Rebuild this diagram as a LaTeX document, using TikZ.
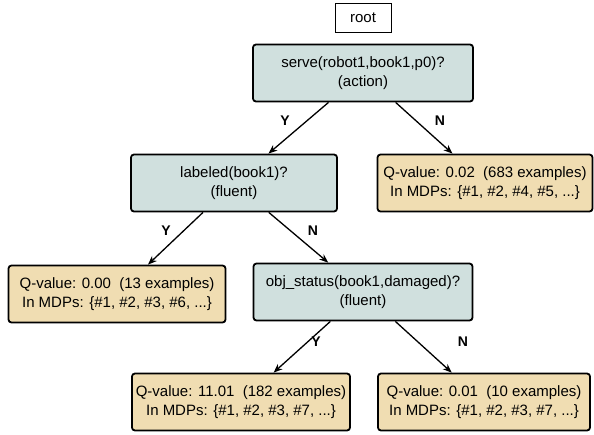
\documentclass[tikz,border=0pt]{standalone}
\usepackage{fontspec}
\setmainfont{Liberation Sans}
\usetikzlibrary{arrows.meta}

\definecolor{testfill}{RGB}{208,224,222}
\definecolor{leaffill}{RGB}{240,221,178}

\tikzset{
  testbox/.style={draw, line width=1.8pt, rounded corners=3pt, fill=testfill,
    minimum height=57pt, align=center, font=\fontsize{15}{19}\selectfont},
  leafbox/.style={draw, line width=1.8pt, rounded corners=3pt, fill=leaffill,
    minimum height=57pt, align=center, font=\fontsize{15}{19}\selectfont},
  branch/.style={line width=1.3pt, -{Stealth[length=9pt, width=7pt]}},
  answer/.style={font=\fontsize{14}{16}\selectfont\bfseries}
}

\begin{document}
\begin{tikzpicture}[x=1pt, y=-1pt]
      \useasboundingbox (0,0) rectangle (594,434);

      \node[draw, line width=0.6pt, minimum width=56pt, minimum height=29pt,
        font=\fontsize{15}{19}\selectfont] (root) at (363,18) {root};

      \node[testbox, minimum width=220pt] (serve) at (363,73) {serve(robot1,book1,p0)?\\(action)};
      \node[testbox, minimum width=206pt] (labeled) at (234,183) {labeled(book1)?\\(fluent)};
      \node[leafbox, minimum width=215pt] (leafA) at (485,183) {Q-value: 0.02~~(683 examples)\\In MDPs: \{\#1, \#2, \#4, \#5, ...\}};
      \node[leafbox, minimum width=217pt] (leafB) at (117,294) {Q-value: 0.00~~(13 examples)\\In MDPs: \{\#1, \#2, \#3, \#6, ...\}};
      \node[testbox, minimum width=219pt] (status) at (363,292) {obj\_status(book1,damaged)?\\(fluent)};
      \node[leafbox, minimum width=218pt, inner xsep=1pt] (leafC) at (241,402) {Q-value: 11.01~~(182 examples)\\In MDPs: \{\#1, \#2, \#3, \#7, ...\}};
      \node[leafbox, minimum width=212pt] (leafD) at (484,402) {Q-value: 0.01~~(10 examples)\\In MDPs: \{\#1, \#2, \#3, \#7, ...\}};

      \draw[branch] (serve) -- (labeled);
      \draw[branch] (serve) -- (leafA);
      \draw[branch] (labeled) -- (leafB);
      \draw[branch] (labeled) -- (status);
      \draw[branch] (status) -- (leafC);
      \draw[branch] (status) -- (leafD);

      \node[answer] (y1) at (285,121) {Y};
      \node[answer] (n1) at (440,121) {N};
      \node[answer] (y2) at (166,231) {Y};
      \node[answer] (n2) at (313,231) {N};
      \node[answer] (y3) at (316,342) {Y};
      \node[answer] (n3) at (463,342) {N};

    \end{tikzpicture}
\end{document}
